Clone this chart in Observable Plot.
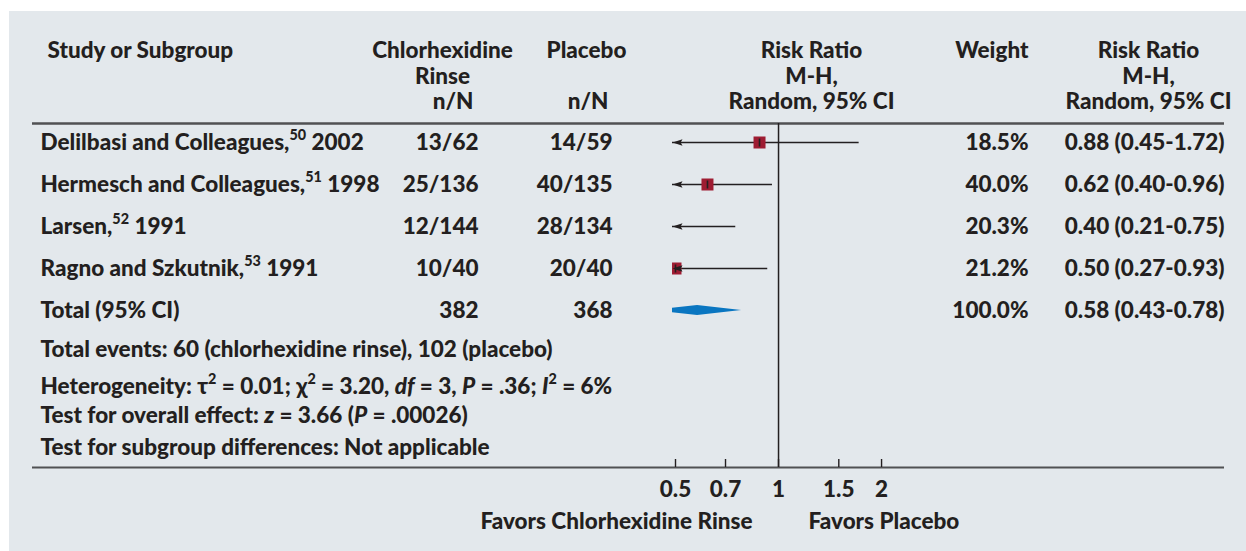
<!DOCTYPE html>
<html><head><meta charset="utf-8">
<script src="https://cdn.jsdelivr.net/npm/d3@7"></script>
<script src="https://cdn.jsdelivr.net/npm/@observablehq/plot@0.6"></script>
<style>
html,body{margin:0;padding:0;background:#fff;}
#panel{position:absolute;left:9px;top:11px;width:1237px;height:540px;background:#e3e8ec;overflow:hidden;}
</style></head><body><div id="panel"></div>
<script>
// ---- data ----
const studyNames = ["Delilbasi and Colleagues", "Hermesch and Colleagues", "Larsen", "Ragno and Szkutnik"];
const refNums = [50, 51, 52, 53];
const years = [2002, 1998, 1991, 1991];
const chxEvents = [13, 25, 12, 10];
const chxTotals = [62, 136, 144, 40];
const plaEvents = [14, 40, 28, 20];
const plaTotals = [59, 135, 134, 40];
const weights = [18.5, 40.0, 20.3, 21.2];
const riskRatios = [0.88, 0.62, 0.40, 0.50];
const ciLower = [0.45, 0.40, 0.21, 0.27];
const ciUpper = [1.72, 0.96, 0.75, 0.93];
const totalLabel = "Total (95% CI)";
const totalChx = 382, totalPla = 368, totalWeight = 100.0;
const totalRR = 0.58, totalLower = 0.43, totalUpper = 0.78;
const xTicks = [0.5, 0.7, 1, 1.5, 2];
const xDomain = [0.49, 2.04];
const headStudy = "Study or Subgroup";
const headChx = "Chlorhexidine\nRinse";
const headPla = "Placebo";
const headNN = "n/N";
const headRR = "Risk Ratio\nM-H,\nRandom, 95% CI";
const headWeight = "Weight";
const footnotes = [
  "Total events: 60 (chlorhexidine rinse), 102 (placebo)",
  "Heterogeneity: τ^2^ = 0.01; χ^2^ = 3.20, *df* = 3, *P* = .36; *I*^2^ = 6%",
  "Test for overall effect: *z* = 3.66 (*P* = .00026)",
  "Test for subgroup differences: Not applicable"
];
const favorsLeft = "Favors Chlorhexidine Rinse";
const favorsRight = "Favors Placebo";

// ---- table ----
const fmt2 = v => v.toFixed(2);
const rows = studyNames.map((n, i) => ({
  key: n, study: true,
  label: `${n},^${refNums[i]}^ ${years[i]}`,
  chx: `${chxEvents[i]}/${chxTotals[i]}`,
  pla: `${plaEvents[i]}/${plaTotals[i]}`,
  weight: weights[i].toFixed(1) + "%",
  rr: riskRatios[i], lo: ciLower[i], hi: ciUpper[i],
  rrText: `${fmt2(riskRatios[i])} (${fmt2(ciLower[i])}-${fmt2(ciUpper[i])})`
}));
const totalRow = {
  key: totalLabel, study: false, label: totalLabel,
  chx: String(totalChx), pla: String(totalPla), weight: totalWeight.toFixed(1) + "%",
  rr: totalRR, lo: totalLower, hi: totalUpper,
  rrText: `${fmt2(totalRR)} (${fmt2(totalLower)}-${fmt2(totalUpper)})`
};
const allRows = [...rows, totalRow];

// ---- layout ----
const W = 1237, H = 540;
const M = {left: 663, right: 362, top: 112, bottom: 84};
const frameH = H - M.top - M.bottom;
const ink = "#231f20";
const ruleInk = "#505153";
const FS = 22.5;
const headLH = 25.5 / FS;

const arrowHead = {draw(ctx) { ctx.moveTo(-5, 0); ctx.lineTo(5, -3.3); ctx.lineTo(3.2, 0); ctx.lineTo(5, 3.3); ctx.closePath(); }};
const estTick = {draw(ctx) { ctx.moveTo(0, -4); ctx.lineTo(0, 4); }};

function diamond(index, scales, values, dims) {
  const x = scales.x, y = scales.y;
  const xl0 = x(totalRow.lo), xm = x(totalRow.rr), xr0 = x(totalRow.hi);
  const left = dims.marginLeft, right = dims.width - dims.marginRight;
  const xl = Math.max(xl0, left), xr = Math.min(xr0, right);
  const yc = y(totalRow.key), h = 5;
  const hl = h * (xl - xl0) / (xm - xl0);
  const pts = [[xl, yc - hl], [xm, yc - h], [xr, yc], [xm, yc + h], [xl, yc + hl]];
  const g = d3.create("svg:g");
  g.append("path").attr("d", "M" + pts.map(p => p.join(",")).join("L") + "Z").attr("fill", "#0a76c1");
  return g.node();
}

const colText = (field, dx, anchor) => Plot.text(allRows, {y: "key", text: field, frameAnchor: "left", dx, textAnchor: anchor, lineAnchor: "middle", fill: ink});
const headText = (txt, dx, anchor) => Plot.text([txt], {text: d => d, frameAnchor: "top-left", dx, dy: -48, textAnchor: anchor, lineAnchor: "middle", lineHeight: headLH, fill: ink});
const pad3 = (s, pos) => { const L = s.split("\n"); while (L.length < 3) pos === "end" ? L.unshift("") : L.push(""); return L.join("\n"); };

const chart = Plot.plot({
  width: W, height: H,
  marginLeft: M.left, marginRight: M.right, marginTop: M.top, marginBottom: M.bottom,
  style: {fontFamily: "Lato, 'Open Sans', sans-serif", fontSize: FS + "px", fontWeight: "900", color: ink, background: "transparent", overflow: "visible"},
  x: {type: "log", domain: xDomain, ticks: xTicks, tickSize: 0, tickPadding: 14, tickFormat: d => String(d), label: null},
  y: {type: "point", domain: allRows.map(d => d.key), range: [131, 299], padding: 0, axis: null},
  marks: [
    // rules
    Plot.ruleY([0], {y: null, dy: -frameH / 2, insetLeft: -640, insetRight: -340, stroke: ruleInk, strokeWidth: 2.4}),
    Plot.ruleY([0], {y: null, dy: frameH / 2, insetLeft: -640, insetRight: -340, stroke: ruleInk, strokeWidth: 2}),
    Plot.ruleX([1], {stroke: ink, strokeWidth: 1.5}),
    Plot.ruleX(xTicks, {insetTop: frameH - 8, stroke: ink, strokeWidth: 1.4}),
    // CI lines
    Plot.ruleY(rows, {y: "key", x1: "lo", x2: "hi", stroke: ink, strokeWidth: 1.6, clip: true}),
    Plot.dot(rows, {x: "rr", y: "key", symbol: "square", r: 6.77, fill: "#9e1c32", stroke: "none", clip: true}),
    Plot.dot(rows, {x: "rr", y: "key", symbol: estTick, stroke: ink, strokeWidth: 1.6, fill: "none", clip: true}),
    Plot.dot(rows.filter(d => d.lo < xDomain[0]), {x: () => xDomain[0], y: "key", symbol: arrowHead, fill: ink, stroke: "none", dx: 5}),
    diamond,
    // table columns
    colText("label", -632, "start"),
    colText("chx", -194, "end"),
    colText("pla", -60, "end"),
    colText("weight", 356, "end"),
    colText("rrText", 552, "end"),
    // headers
    headText(pad3(headStudy), -625, "start"),
    headText(pad3(headChx), -230, "middle"),
    headText(pad3(headNN, "end"), -199, "end"),
    headText(pad3(headPla), -86, "middle"),
    headText(pad3(headNN, "end"), -64, "end"),
    headText(pad3(headRR), 139, "middle"),
    headText(pad3(headWeight), 356, "end"),
    headText(pad3(headRR), 476, "middle"),
    // footnotes
    ...[-118, -81, -52, -20].map((dy, i) => Plot.text([footnotes[i]], {text: d => d, frameAnchor: "bottom-left", dx: -632, dy, textAnchor: "start", lineAnchor: "middle", fill: ink})),
    // favors labels
    Plot.text([1], {x: d => d, text: () => favorsLeft, frameAnchor: "bottom", dy: 54, dx: -26, textAnchor: "end", lineAnchor: "middle", fill: ink}),
    Plot.text([1], {x: d => d, text: () => favorsRight, frameAnchor: "bottom", dy: 54, dx: 30, textAnchor: "start", lineAnchor: "middle", fill: ink})
  ]
});

// rich text: ^sup^ and *italic*
const NS = "http://www.w3.org/2000/svg";
chart.querySelectorAll("text, tspan").forEach(el => {
  if (el.children.length) return;
  const s = el.textContent;
  if (!/[\^*]/.test(s)) return;
  el.textContent = "";
  const parts = s.split(/(\^[^^]*\^|\*[^*]*\*)/).filter(p => p);
  let pending = 0;
  for (const p of parts) {
    const t = document.createElementNS(NS, "tspan");
    if (p[0] === "^") {
      t.textContent = p.slice(1, -1);
      t.setAttribute("font-size", FS * 0.64);
      t.setAttribute("dy", -FS * 0.42 + pending);
      pending = FS * 0.42;
    } else {
      if (p[0] === "*") { t.textContent = p.slice(1, -1); t.setAttribute("font-style", "italic"); }
      else t.textContent = p;
      if (pending) { t.setAttribute("dy", pending); pending = 0; }
    }
    el.appendChild(t);
  }
});

document.getElementById("panel").appendChild(chart);
</script></body></html>
